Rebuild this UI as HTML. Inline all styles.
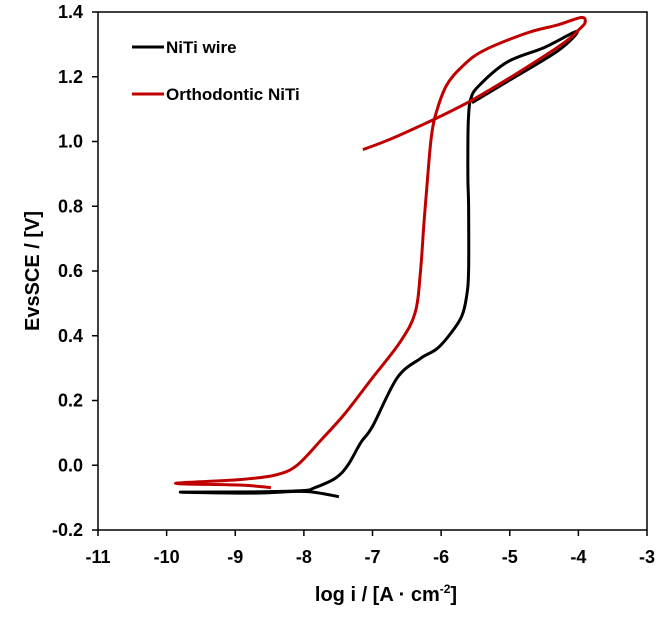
<!DOCTYPE html>
<html><head><meta charset="utf-8"><style>
body{margin:0;background:#fff;}
svg{display:block;font-family:"Liberation Sans",Arial,sans-serif;font-weight:bold;}
</style></head><body>
<svg id="chart" width="665" height="617" viewBox="0 0 665 617">
<rect x="0" y="0" width="665" height="617" fill="#fff"/>
<g id="axes"></g>
<g id="series"></g>
<g id="legend">
  <line x1="132" y1="47" x2="164" y2="47" stroke="#000" stroke-width="3"/>
  <text x="166" y="53" font-size="17">NiTi wire</text>
  <line x1="132" y1="94" x2="164" y2="94" stroke="#c00000" stroke-width="3"/>
  <text x="166" y="100" font-size="17">Orthodontic NiTi</text>
</g>
<text x="386" y="601" font-size="20" text-anchor="middle">log i / [A · cm<tspan font-size="12" dy="-8">-2</tspan><tspan dy="8">]</tspan></text>
<text transform="translate(39,271) rotate(-90)" font-size="20" text-anchor="middle">EvsSCE / [V]</text>
</svg>
<script>
const xTicks = [-11,-10,-9,-8,-7,-6,-5,-4,-3];
const yTicks = [-0.2,0,0.2,0.4,0.6,0.8,1.0,1.2,1.4];
const yTickLabels = ["-0.2","0.0","0.2","0.4","0.6","0.8","1.0","1.2","1.4"];
const wireX = [-7.49,-7.98,-8.72,-9.8,-8.6,-8.0,-7.85,-7.54,-7.36,-7.17,-7.0,-6.64,-6.3,-6.06,-5.85,-5.7,-5.63,-5.6,-5.6,-5.61,-5.61,-5.6,-5.57,-5.46,-5.04,-4.5,-4.02,-4.3,-5.0,-5.55];
const wireY = [-0.097,-0.081,-0.086,-0.083,-0.082,-0.078,-0.07,-0.04,0.0,0.07,0.12,0.27,0.33,0.36,0.41,0.46,0.52,0.6,0.8,0.88,1.0,1.08,1.13,1.17,1.245,1.29,1.34,1.28,1.19,1.12];
const orthoX = [-8.48,-8.94,-9.87,-8.96,-8.41,-8.1,-7.74,-7.4,-7.0,-6.6,-6.38,-6.3,-6.25,-6.2,-6.15,-6.09,-5.93,-5.7,-5.39,-4.75,-4.3,-3.96,-3.9,-3.97,-4.31,-5.53,-6.6,-7.14];
const orthoY = [-0.069,-0.061,-0.056,-0.045,-0.03,0.0,0.08,0.16,0.27,0.38,0.47,0.6,0.75,0.88,1.0,1.075,1.17,1.23,1.28,1.335,1.36,1.383,1.37,1.35,1.29,1.13,1.02,0.975];

const L=98,R=647,T=12,B=530;
const X=v=>L+(v-(-11))/8*(R-L);
const Y=v=>B-(v-(-0.2))/1.6*(B-T);
const NS="http://www.w3.org/2000/svg";
const ax=document.getElementById('axes');
function mk(tag,attrs,parent){const e=document.createElementNS(NS,tag);for(const k in attrs)e.setAttribute(k,attrs[k]);parent.appendChild(e);return e;}
const frame=mk('rect',{x:L,y:T,width:R-L,height:B-T,fill:'none',stroke:'#000','stroke-width':1.5},ax);


xTicks.forEach(t=>{
  const l=mk('line',{x1:X(t),x2:X(t),y1:B,y2:B+6,stroke:'#000','stroke-width':1.5},ax);
  
  
  const tx=mk('text',{x:X(t),y:B+33,'font-size':18,'text-anchor':'middle'},ax);
  tx.textContent=String(t);
  
  
});
yTicks.forEach((t,i)=>{
  const l=mk('line',{x1:L-6,x2:L,y1:Y(t),y2:Y(t),stroke:'#000','stroke-width':1.5},ax);
  
  
  const tx=mk('text',{x:L-15,y:Y(t)+6,'font-size':18,'text-anchor':'end'},ax);
  tx.textContent=yTickLabels[i];
  
  
});
const sg=document.getElementById('series');
function path(xs,ys){
  const p=xs.map((x,i)=>[X(x),Y(ys[i])]);
  let d='M'+p[0][0].toFixed(1)+' '+p[0][1].toFixed(1);
  for(let i=0;i<p.length-1;i++){
    const p0=p[Math.max(0,i-1)],p1=p[i],p2=p[i+1],p3=p[Math.min(p.length-1,i+2)];
    const c1=[p1[0]+(p2[0]-p0[0])/6,p1[1]+(p2[1]-p0[1])/6];
    const c2=[p2[0]-(p3[0]-p1[0])/6,p2[1]-(p3[1]-p1[1])/6];
    d+=' C'+c1.map(v=>v.toFixed(1)).join(' ')+' '+c2.map(v=>v.toFixed(1)).join(' ')+' '+p2[0].toFixed(1)+' '+p2[1].toFixed(1);
  }
  return d;
}
const p1=mk('path',{d:path(wireX,wireY),fill:'none',stroke:'#000','stroke-width':3,'stroke-linejoin':'round'},sg);


const p2=mk('path',{d:path(orthoX,orthoY),fill:'none',stroke:'#c00000','stroke-width':3,'stroke-linejoin':'round'},sg);


</script>
</body></html>
